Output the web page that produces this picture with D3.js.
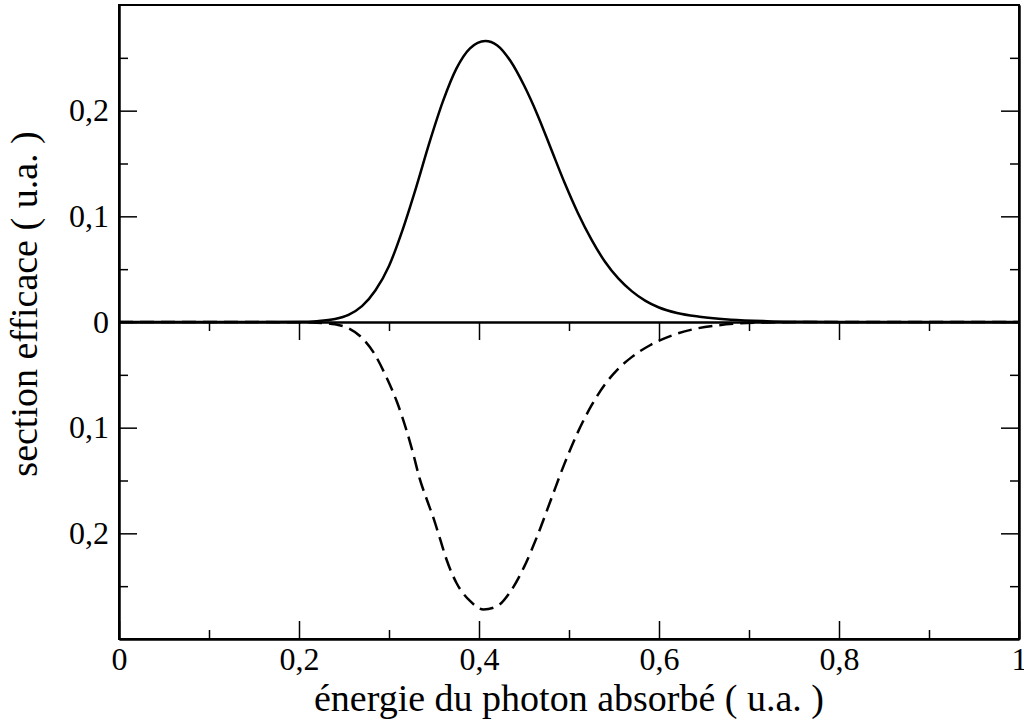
<!DOCTYPE html>
<html>
<head>
<meta charset="utf-8">
<script src="https://cdn.jsdelivr.net/npm/d3@7"></script>
<style>
  body { margin: 0; background: #fff; }
  text { font-family: "Liberation Serif", "Times New Roman", serif; fill: #000; }
</style>
</head>
<body>
<svg id="chart"></svg>
<script>
const width = 1024;
const height = 719;
const margin = { top: 5, right: 5, bottom: 80, left: 119 };

// photon energy (u.a.) for the solid curve, and its cross section
const solidX = [0, 0.1, 0.2, 0.22, 0.24, 0.255, 0.27, 0.285, 0.3, 0.315, 0.33, 0.345, 0.36, 0.375, 0.39, 0.407, 0.42, 0.435, 0.45, 0.465, 0.48, 0.495, 0.51, 0.525, 0.54, 0.555, 0.57, 0.585, 0.6, 0.62, 0.645, 0.68, 0.72, 0.76, 0.8, 0.9, 1.0];
const solidY = [0, 0, 0.0002, 0.0008, 0.0028, 0.0068, 0.015, 0.03, 0.053, 0.087, 0.127, 0.17, 0.209, 0.24, 0.259, 0.266, 0.262, 0.247, 0.224, 0.196, 0.164, 0.132, 0.103, 0.078, 0.057, 0.041, 0.029, 0.02, 0.0137, 0.0085, 0.005, 0.0022, 0.0008, 0.0002, 0, 0, 0];

// dashed curve (drawn below the zero line)
const dashX = [0, 0.1, 0.2, 0.22, 0.24, 0.255, 0.27, 0.283, 0.297, 0.309, 0.32, 0.327, 0.334, 0.342, 0.35, 0.357, 0.364, 0.375, 0.39, 0.405, 0.42, 0.435, 0.45, 0.465, 0.48, 0.495, 0.51, 0.525, 0.54, 0.555, 0.57, 0.59, 0.615, 0.64, 0.665, 0.69, 0.72, 0.76, 0.8, 0.9, 1.0];
const dashY = [0, 0, -0.0002, -0.0006, -0.0022, -0.006, -0.015, -0.029, -0.052, -0.076, -0.104, -0.125, -0.148, -0.168, -0.187, -0.206, -0.225, -0.247, -0.264, -0.272, -0.269, -0.255, -0.232, -0.202, -0.168, -0.134, -0.104, -0.079, -0.059, -0.044, -0.033, -0.022, -0.0125, -0.0065, -0.0032, -0.0013, -0.0004, 0, 0, 0, 0];

const xMajor = [0, 0.2, 0.4, 0.6, 0.8, 1];
const xMinor = [0.1, 0.3, 0.5, 0.7, 0.9];
const yMajor = [-0.2, -0.1, 0, 0.1, 0.2];
const yMinor = [-0.25, -0.15, -0.05, 0.05, 0.15, 0.25];

const svg = d3.select("#chart")
  .attr("width", width)
  .attr("height", height);

const x = d3.scaleLinear().domain([0, 1]).range([margin.left, width - margin.right]);
const y = d3.scaleLinear().domain([-0.3, 0.3]).range([height - margin.bottom, margin.top]);

// labels use a decimal comma and show magnitudes only
const fmt = v => {
  if (v === 0) return "0";
  if (Math.abs(v - 1) < 1e-9) return "1";
  return d3.format(".1f")(Math.abs(v)).replace(".", ",");
};

const line = d3.line()
  .x(d => x(d[0]))
  .y(d => y(d[1]))
  .curve(d3.curveMonotoneX);

svg.append("path")
  .datum(d3.zip(solidX, solidY))
  .attr("fill", "none")
  .attr("stroke", "#000")
  .attr("stroke-width", 2.5)
  .attr("d", line);

svg.append("path")
  .datum(d3.zip(dashX, dashY))
  .attr("fill", "none")
  .attr("stroke", "#000")
  .attr("stroke-width", 2.5)
  .attr("stroke-dasharray", "14,7")
  .attr("d", line);

// zero line, ticks pointing down
const zero = svg.append("g")
  .attr("transform", `translate(0,${y(0)})`);
zero.call(d3.axisBottom(x).tickValues(xMajor.slice(1, -1)).tickSizeInner(18).tickSizeOuter(0).tickFormat(""));
zero.append("g").call(d3.axisBottom(x).tickValues(xMinor).tickSizeInner(9).tickSizeOuter(0).tickFormat(""));

// bottom axis
const bottom = svg.append("g")
  .attr("transform", `translate(0,${height - margin.bottom})`);
bottom.call(d3.axisBottom(x).tickValues(xMajor).tickSizeInner(-18).tickSizeOuter(0).tickPadding(8).tickFormat(fmt));
bottom.append("g").call(d3.axisBottom(x).tickValues(xMinor).tickSizeInner(-9).tickSizeOuter(0).tickFormat(""));

// left axis
const left = svg.append("g")
  .attr("transform", `translate(${margin.left},0)`);
left.call(d3.axisLeft(y).tickValues(yMajor).tickSizeInner(-18).tickSizeOuter(0).tickPadding(10).tickFormat(fmt));
left.append("g").call(d3.axisLeft(y).tickValues(yMinor).tickSizeInner(-9).tickSizeOuter(0).tickFormat(""));

// right axis
const right = svg.append("g")
  .attr("transform", `translate(${width - margin.right},0)`);
right.call(d3.axisRight(y).tickValues(yMajor).tickSizeInner(-18).tickSizeOuter(0).tickFormat(""));
right.append("g").call(d3.axisRight(y).tickValues(yMinor).tickSizeInner(-9).tickSizeOuter(0).tickFormat(""));

svg.selectAll(".tick line").attr("stroke", "#000").attr("stroke-width", 1.5);
svg.selectAll(".domain").attr("stroke", "#000").attr("stroke-width", 2);
svg.selectAll(".tick text")
  .attr("font-size", 32)
  .style("font-family", "'Liberation Serif', serif");

// frame
svg.append("rect")
  .attr("x", x(0))
  .attr("y", y(0.3))
  .attr("width", x(1) - x(0))
  .attr("height", y(-0.3) - y(0.3))
  .attr("fill", "none")
  .attr("stroke", "#000")
  .attr("stroke-width", 2);

// axis titles
svg.append("text")
  .attr("x", (x(0) + x(1)) / 2)
  .attr("y", 711)
  .attr("text-anchor", "middle")
  .attr("font-size", 38)
  .style("font-family", "'Liberation Serif', serif")
  .text("énergie du photon absorbé ( u.a. )");

svg.append("text")
  .attr("transform", "translate(37,304) rotate(-90)")
  .attr("text-anchor", "middle")
  .attr("font-size", 38)
  .style("font-family", "'Liberation Serif', serif")
  .text("section efficace ( u.a. )");
</script>
</body>
</html>
